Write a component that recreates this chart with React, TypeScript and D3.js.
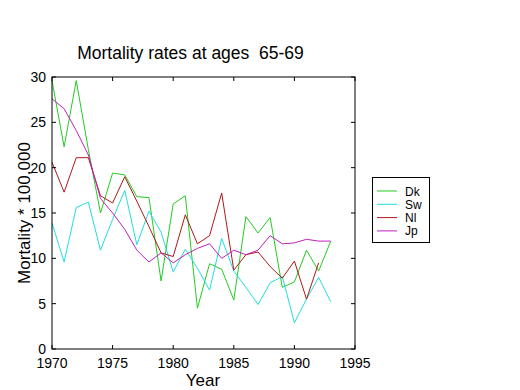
import React from "react";
import * as d3 from "d3";

const years = d3.range(1970, 1994);
const dk = [29.6, 22.3, 29.6, 22.0, 15.0, 19.4, 19.2, 16.8, 16.7, 7.5, 16.0, 16.9, 4.5, 9.4, 8.8, 5.4, 14.6, 12.8, 14.5, 6.8, 7.4, 10.9, 8.6, 11.9];
const sw = [13.9, 9.6, 15.6, 16.2, 10.9, 14.3, 17.5, 11.5, 15.2, 12.9, 8.5, 11.0, 8.9, 6.5, 12.2, 8.6, 6.8, 4.9, 7.3, 8.0, 2.9, 5.5, 7.9, 5.2];
const nl = [20.6, 17.3, 21.1, 21.1, 16.9, 16.1, 19.0, 16.3, 13.5, 10.6, 10.2, 14.8, 11.6, 12.5, 17.2, 8.7, 10.4, 10.7, 9.1, 7.8, 9.7, 5.5, 9.5];
const jp = [27.6, 26.5, 24.1, 21.4, 16.6, 15.0, 13.2, 10.9, 9.6, 10.6, 9.5, 10.4, 11.1, 11.6, 10.0, 10.9, 10.4, 10.9, 12.5, 11.6, 11.7, 12.1, 11.9, 11.9];
const seriesNames = ["Dk", "Sw", "Nl", "Jp"];
const seriesColors = ["#22cc22", "#22dddd", "#b01818", "#c020c0"];
const xTicks = [1970, 1975, 1980, 1985, 1990, 1995];
const yTicks = [0, 5, 10, 15, 20, 25, 30];

export default function App() {
  const left = 52, right = 355, top = 77, bottom = 349;
  const x = d3.scaleLinear().domain([1970, 1995]).range([left, right]);
  const y = d3.scaleLinear().domain([0, 30]).range([bottom, top]);
  const line = d3.line<number>().x((_, i) => x(years[i])).y((d) => y(d));
  const data = [dk, sw, nl, jp];
  const font = "Arial, 'Liberation Sans', Helvetica, sans-serif";
  const tl = 4;
  return (
    <svg width={520} height={390} style={{ position: "absolute", left: 0, top: 0, background: "#fff" }} fontFamily={font}>
      <rect x={0} y={0} width={520} height={390} fill="#fff" />
      <text x={190.5} y={59} fontSize={17.5} textAnchor="middle" fill="#000" style={{ whiteSpace: "pre" }}>{"Mortality rates at ages  65-69"}</text>
      {data.map((d, k) => (
        <path key={k} d={line(d) || ""} fill="none" stroke={seriesColors[k]} strokeWidth={1} />
      ))}
      <rect x={left} y={top} width={right - left} height={bottom - top} fill="none" stroke="#000" strokeWidth={1} />
      {xTicks.map((t) => (
        <g key={"x" + t}>
          <line x1={x(t)} x2={x(t)} y1={bottom} y2={bottom - tl} stroke="#000" />
          <line x1={x(t)} x2={x(t)} y1={top} y2={top + tl} stroke="#000" />
          <text x={x(t)} y={368} fontSize={14} textAnchor="middle" fill="#000">{t}</text>
        </g>
      ))}
      {yTicks.map((t) => (
        <g key={"y" + t}>
          <line x1={left} x2={left + tl} y1={y(t)} y2={y(t)} stroke="#000" />
          <line x1={right} x2={right - tl} y1={y(t)} y2={y(t)} stroke="#000" />
          <text x={46} y={y(t) + 5} fontSize={14} textAnchor="end" fill="#000">{t}</text>
        </g>
      ))}
      <text x={203} y={386} fontSize={17} textAnchor="middle" fill="#000">Year</text>
      <text transform={`translate(30,${(top + bottom) / 2}) rotate(-90)`} fontSize={17} textAnchor="middle" fill="#000">Mortality * 100,000</text>
      <rect x={372.5} y={177.5} width={57} height={65} fill="#fff" stroke="#000" />
      {seriesNames.map((n, i) => (
        <g key={n}>
          <line x1={377} x2={397} y1={191 + i * 13.3} y2={191 + i * 13.3} stroke={seriesColors[i]} />
          <text x={405} y={195.5 + i * 13.3} fontSize={12} fill="#000">{n}</text>
        </g>
      ))}
    </svg>
  );
}
